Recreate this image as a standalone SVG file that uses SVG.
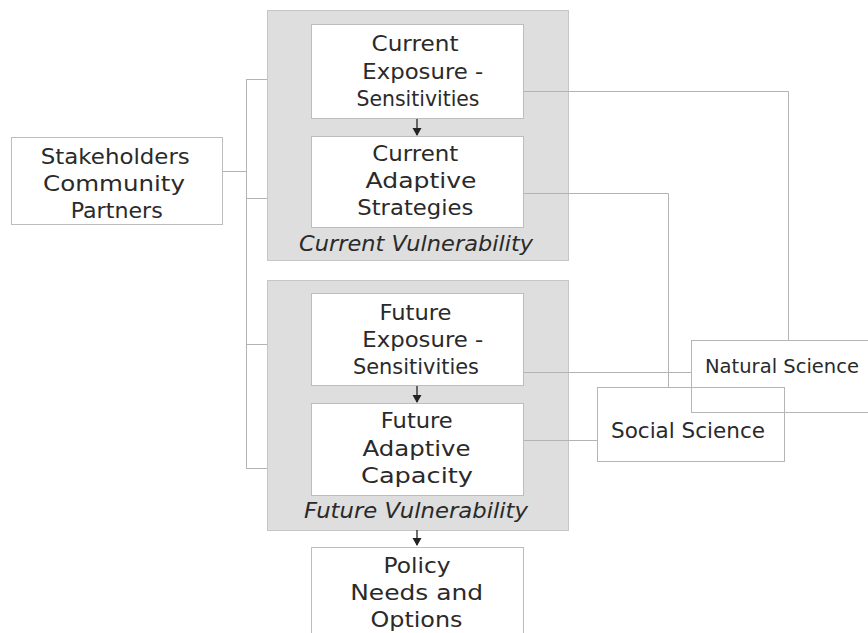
<svg xmlns="http://www.w3.org/2000/svg" width="868" height="633" viewBox="0 0 868 633">
<style>
.grp{fill:#dedede;stroke:#c6c6c6;stroke-width:1}
.box{fill:#ffffff;stroke:#bdbdbd;stroke-width:1}
.obox{fill:none;stroke:#b5b5b5;stroke-width:1}
.lbl{font-family:"DejaVu Sans",sans-serif;font-size:21px;fill:#2a2a2a;text-anchor:middle}
.it{font-style:italic}
.con{fill:none;stroke:#b3b3b3;stroke-width:1}
</style>
<rect width="868" height="633" fill="#ffffff"/>
<g id="current-vulnerability">
<rect class="grp" x="267.5" y="10.5" width="301" height="250"/>
<text class="lbl it" x="416" y="251" textLength="234" lengthAdjust="spacingAndGlyphs">Current Vulnerability</text>
</g>
<g id="future-vulnerability">
<rect class="grp" x="267.5" y="280.5" width="301" height="250"/>
<text class="lbl it" x="416" y="518" textLength="224" lengthAdjust="spacingAndGlyphs">Future Vulnerability</text>
</g>
<g id="connectors">
<path class="con" d="M222,171.5 H246.5 M246.5,79 V468 M246,79.5 H267 M246,198.5 H267 M246,344.5 H267 M246,468.5 H267"/>
<path class="con" d="M523,91.5 H788.5 V340"/>
<path class="con" d="M523,193.5 H668.5 V387"/>
<path class="con" d="M523,372.5 H691"/>
<path class="con" d="M523,440.5 H597"/>
<path d="M417,118 V135" stroke="#222" stroke-width="1.3"/>
<path d="M412.5,128 L421.5,128 L417,136 Z" fill="#222"/>
<path d="M417,385 V402" stroke="#222" stroke-width="1.3"/>
<path d="M412.5,395 L421.5,395 L417,403 Z" fill="#222"/>
<path d="M417,530 V545" stroke="#222" stroke-width="1.3"/>
<path d="M412.5,538 L421.5,538 L417,546 Z" fill="#222"/>
</g>
<g id="stakeholders">
<rect class="box" x="11.5" y="137.5" width="211" height="87"/>
<text class="lbl" x="115.3" y="164" textLength="149" lengthAdjust="spacingAndGlyphs">Stakeholders</text>
<text class="lbl" x="114" y="191" textLength="142" lengthAdjust="spacingAndGlyphs">Community</text>
<text class="lbl" x="116.7" y="218" textLength="92" lengthAdjust="spacingAndGlyphs">Partners</text>
</g>
<g id="current-exposure">
<rect class="box" x="311.5" y="24.5" width="212" height="94"/>
<text class="lbl" x="415" y="51" textLength="87" lengthAdjust="spacingAndGlyphs">Current</text>
<text class="lbl" x="422.8" y="79" textLength="121" lengthAdjust="spacingAndGlyphs">Exposure -</text>
<text class="lbl" x="418" y="106" textLength="123" lengthAdjust="spacingAndGlyphs">Sensitivities</text>
</g>
<g id="current-adaptive">
<rect class="box" x="311.5" y="136.5" width="212" height="91"/>
<text class="lbl" x="415.3" y="161" textLength="86" lengthAdjust="spacingAndGlyphs">Current</text>
<text class="lbl" x="421" y="188" textLength="111" lengthAdjust="spacingAndGlyphs">Adaptive</text>
<text class="lbl" x="415.3" y="215" textLength="116" lengthAdjust="spacingAndGlyphs">Strategies</text>
</g>
<g id="future-exposure">
<rect class="box" x="311.5" y="293.5" width="212" height="92"/>
<text class="lbl" x="415.5" y="320" textLength="72" lengthAdjust="spacingAndGlyphs">Future</text>
<text class="lbl" x="422.8" y="347" textLength="121" lengthAdjust="spacingAndGlyphs">Exposure -</text>
<text class="lbl" x="416" y="374" textLength="126" lengthAdjust="spacingAndGlyphs">Sensitivities</text>
</g>
<g id="future-adaptive">
<rect class="box" x="311.5" y="403.5" width="212" height="92"/>
<text class="lbl" x="416.8" y="428" textLength="72" lengthAdjust="spacingAndGlyphs">Future</text>
<text class="lbl" x="416.5" y="456" textLength="108" lengthAdjust="spacingAndGlyphs">Adaptive</text>
<text class="lbl" x="417" y="483" textLength="112" lengthAdjust="spacingAndGlyphs">Capacity</text>
</g>
<g id="policy">
<rect class="box" x="311.5" y="547.5" width="212" height="100"/>
<text class="lbl" x="417" y="573" textLength="67" lengthAdjust="spacingAndGlyphs">Policy</text>
<text class="lbl" x="416.7" y="600" textLength="133" lengthAdjust="spacingAndGlyphs">Needs and</text>
<text class="lbl" x="416.5" y="627" textLength="92" lengthAdjust="spacingAndGlyphs">Options</text>
</g>
<g id="natural-science">
<rect class="obox" x="691.5" y="340.5" width="200" height="72"/>
<text class="lbl" x="705" y="373" style="text-anchor:start;font-size:19px" textLength="154" lengthAdjust="spacingAndGlyphs">Natural Science</text>
</g>
<g id="social-science">
<rect class="obox" x="597.5" y="387.5" width="187" height="74"/>
<text class="lbl" x="688" y="438" textLength="154" lengthAdjust="spacingAndGlyphs">Social Science</text>
</g>
</svg>
